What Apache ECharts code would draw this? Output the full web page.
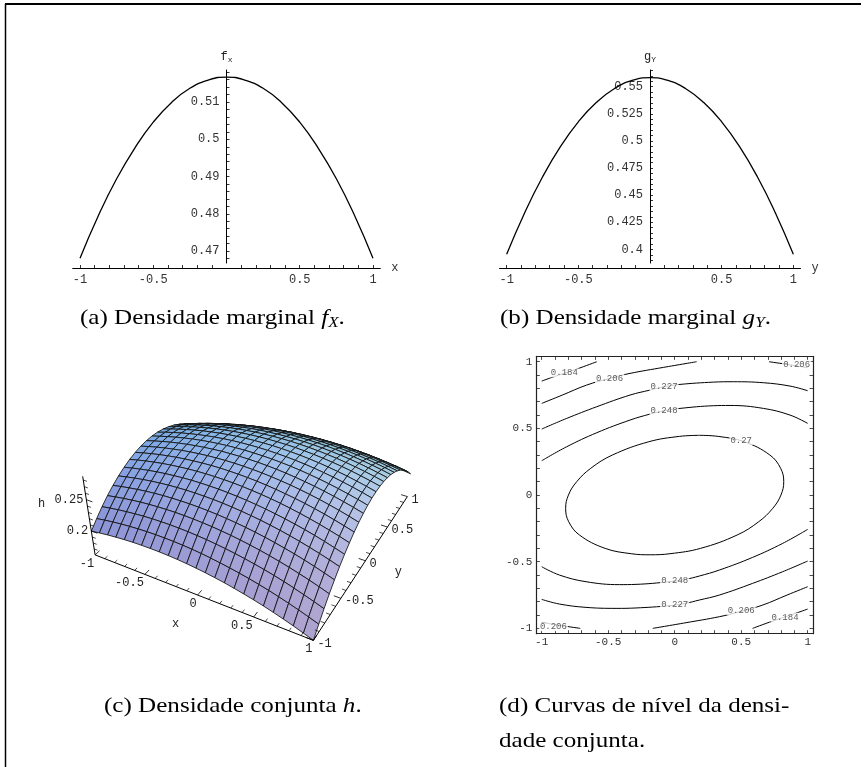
<!DOCTYPE html>
<html><head><meta charset="utf-8">
<script src="https://cdn.jsdelivr.net/npm/echarts@6/dist/echarts.min.js"></script>
<style>html,body{margin:0;padding:0;background:#fff}#c{width:865px;height:767px}</style>
</head><body><div id="c"></div>
<script>
// ---------------- data ----------------
// (a) marginal f_X
const fxX = [-1,-0.875,-0.75,-0.625,-0.5,-0.375,-0.25,-0.125,0,0.125,0.25,0.375,0.5,0.625,0.75,0.875,1];
const fxV = [0.4681,0.4795,0.4894,0.4977,0.5046,0.5099,0.5137,0.5159,0.5167,0.5159,0.5137,0.5099,0.5046,0.4977,0.4894,0.4795,0.4681];
// (b) marginal g_Y
const gyX = [-1,-0.875,-0.75,-0.625,-0.5,-0.375,-0.25,-0.125,0,0.125,0.25,0.375,0.5,0.625,0.75,0.875,1];
const gyV = [0.3954,0.4336,0.4667,0.4947,0.5176,0.5354,0.5481,0.5558,0.5583,0.5558,0.5481,0.5354,0.5176,0.4947,0.4667,0.4336,0.3954];
// tick values / labels
const ticksAx = [-1,-0.9,-0.8,-0.7,-0.6,-0.5,-0.4,-0.3,-0.2,-0.1,0.1,0.2,0.3,0.4,0.5,0.6,0.7,0.8,0.9,1];
const labelsAx = [-1,-0.5,0.5,1];
const ticksAy = [0.468,0.47,0.472,0.474,0.476,0.478,0.48,0.482,0.484,0.486,0.488,0.49,0.492,0.494,0.496,0.498,0.5,0.502,0.504,0.506,0.508,0.51,0.512,0.514,0.516,0.518];
const labelsAy = [0.47,0.48,0.49,0.5,0.51];
const ticksBy = [0.39,0.395,0.4,0.405,0.41,0.415,0.42,0.425,0.43,0.435,0.44,0.445,0.45,0.455,0.46,0.465,0.47,0.475,0.48,0.485,0.49,0.495,0.5,0.505,0.51,0.515,0.52,0.525,0.53,0.535,0.54,0.545,0.55,0.555,0.56,0.565];
const labelsBy = [0.4,0.425,0.45,0.475,0.5,0.525,0.55];
const ticksD = [-1,-0.9,-0.8,-0.7,-0.6,-0.5,-0.4,-0.3,-0.2,-0.1,0,0.1,0.2,0.3,0.4,0.5,0.6,0.7,0.8,0.9,1];
const labelsD = [-1,-0.5,0,0.5,1];
// (c) joint density h on a 25x25 grid (rows: y from -1 to 1, columns: x from -1 to 1)
const surfX = [-1,-0.9167,-0.8333,-0.75,-0.6667,-0.5833,-0.5,-0.4167,-0.3333,-0.25,-0.1667,-0.0833,0,0.0833,0.1667,0.25,0.3333,0.4167,0.5,0.5833,0.6667,0.75,0.8333,0.9167,1];
const surfY = [-1,-0.9167,-0.8333,-0.75,-0.6667,-0.5833,-0.5,-0.4167,-0.3333,-0.25,-0.1667,-0.0833,0,0.0833,0.1667,0.25,0.3333,0.4167,0.5,0.5833,0.6667,0.75,0.8333,0.9167,1];
const surfH = [
 [0.1997,0.2019,0.2038,0.2053,0.2065,0.2074,0.2079,0.2081,0.2080,0.2075,0.2067,0.2055,0.2040,0.2022,0.2000,0.1975,0.1946,0.1914,0.1879,0.1841,0.1799,0.1753,0.1705,0.1652,0.1597],
 [0.2110,0.2134,0.2154,0.2171,0.2184,0.2194,0.2201,0.2204,0.2204,0.2201,0.2194,0.2184,0.2170,0.2153,0.2133,0.2109,0.2082,0.2052,0.2018,0.1981,0.1940,0.1896,0.1849,0.1798,0.1744],
 [0.2213,0.2238,0.2259,0.2277,0.2292,0.2304,0.2312,0.2316,0.2318,0.2315,0.2310,0.2301,0.2289,0.2273,0.2254,0.2232,0.2206,0.2177,0.2145,0.2109,0.2070,0.2027,0.1981,0.1932,0.1879],
 [0.2304,0.2330,0.2353,0.2372,0.2389,0.2401,0.2411,0.2417,0.2420,0.2419,0.2415,0.2407,0.2397,0.2382,0.2365,0.2344,0.2320,0.2292,0.2261,0.2226,0.2189,0.2147,0.2103,0.2055,0.2004],
 [0.2383,0.2411,0.2435,0.2456,0.2474,0.2488,0.2499,0.2506,0.2510,0.2511,0.2508,0.2502,0.2493,0.2480,0.2464,0.2444,0.2421,0.2395,0.2365,0.2332,0.2296,0.2256,0.2213,0.2166,0.2116],
 [0.2451,0.2480,0.2506,0.2528,0.2547,0.2563,0.2575,0.2584,0.2590,0.2592,0.2590,0.2586,0.2578,0.2566,0.2551,0.2533,0.2512,0.2487,0.2459,0.2427,0.2392,0.2353,0.2312,0.2267,0.2218],
 [0.2508,0.2539,0.2566,0.2590,0.2610,0.2627,0.2640,0.2651,0.2658,0.2661,0.2661,0.2658,0.2651,0.2641,0.2628,0.2611,0.2591,0.2567,0.2540,0.2510,0.2477,0.2440,0.2399,0.2355,0.2308],
 [0.2554,0.2586,0.2614,0.2639,0.2661,0.2679,0.2694,0.2706,0.2714,0.2719,0.2721,0.2719,0.2714,0.2705,0.2693,0.2677,0.2659,0.2637,0.2611,0.2582,0.2550,0.2514,0.2475,0.2433,0.2387],
 [0.2588,0.2621,0.2651,0.2678,0.2701,0.2721,0.2737,0.2750,0.2760,0.2766,0.2769,0.2768,0.2764,0.2757,0.2747,0.2733,0.2715,0.2694,0.2670,0.2643,0.2612,0.2578,0.2540,0.2499,0.2455],
 [0.2611,0.2646,0.2677,0.2705,0.2729,0.2751,0.2768,0.2783,0.2794,0.2801,0.2806,0.2807,0.2804,0.2798,0.2789,0.2776,0.2760,0.2741,0.2718,0.2692,0.2663,0.2630,0.2594,0.2554,0.2511],
 [0.2623,0.2659,0.2691,0.2721,0.2747,0.2769,0.2788,0.2804,0.2816,0.2826,0.2831,0.2833,0.2832,0.2828,0.2820,0.2809,0.2794,0.2776,0.2755,0.2730,0.2702,0.2671,0.2636,0.2598,0.2556],
 [0.2623,0.2660,0.2694,0.2725,0.2752,0.2776,0.2797,0.2814,0.2828,0.2838,0.2845,0.2849,0.2849,0.2846,0.2840,0.2830,0.2817,0.2800,0.2780,0.2757,0.2730,0.2700,0.2667,0.2630,0.2590],
 [0.2612,0.2651,0.2686,0.2718,0.2747,0.2772,0.2794,0.2813,0.2828,0.2840,0.2848,0.2853,0.2855,0.2853,0.2848,0.2840,0.2828,0.2813,0.2794,0.2772,0.2747,0.2718,0.2686,0.2651,0.2612],
 [0.2590,0.2630,0.2667,0.2700,0.2730,0.2757,0.2780,0.2800,0.2817,0.2830,0.2840,0.2846,0.2849,0.2849,0.2845,0.2838,0.2828,0.2814,0.2797,0.2776,0.2752,0.2725,0.2694,0.2660,0.2623],
 [0.2556,0.2598,0.2636,0.2671,0.2702,0.2730,0.2755,0.2776,0.2794,0.2809,0.2820,0.2828,0.2832,0.2833,0.2831,0.2826,0.2816,0.2804,0.2788,0.2769,0.2747,0.2721,0.2691,0.2659,0.2623],
 [0.2511,0.2554,0.2594,0.2630,0.2663,0.2692,0.2718,0.2741,0.2760,0.2776,0.2789,0.2798,0.2804,0.2807,0.2806,0.2801,0.2794,0.2783,0.2768,0.2751,0.2729,0.2705,0.2677,0.2646,0.2611],
 [0.2455,0.2499,0.2540,0.2578,0.2612,0.2643,0.2670,0.2694,0.2715,0.2733,0.2747,0.2757,0.2764,0.2768,0.2769,0.2766,0.2760,0.2750,0.2737,0.2721,0.2701,0.2678,0.2651,0.2621,0.2588],
 [0.2387,0.2433,0.2475,0.2514,0.2550,0.2582,0.2611,0.2637,0.2659,0.2677,0.2693,0.2705,0.2714,0.2719,0.2721,0.2719,0.2714,0.2706,0.2694,0.2679,0.2661,0.2639,0.2614,0.2586,0.2554],
 [0.2308,0.2355,0.2399,0.2440,0.2477,0.2510,0.2540,0.2567,0.2591,0.2611,0.2628,0.2641,0.2651,0.2658,0.2661,0.2661,0.2658,0.2651,0.2640,0.2627,0.2610,0.2590,0.2566,0.2539,0.2508],
 [0.2218,0.2267,0.2312,0.2353,0.2392,0.2427,0.2459,0.2487,0.2512,0.2533,0.2551,0.2566,0.2578,0.2586,0.2590,0.2592,0.2590,0.2584,0.2575,0.2563,0.2547,0.2528,0.2506,0.2480,0.2451],
 [0.2116,0.2166,0.2213,0.2256,0.2296,0.2332,0.2365,0.2395,0.2421,0.2444,0.2464,0.2480,0.2493,0.2502,0.2508,0.2511,0.2510,0.2506,0.2499,0.2488,0.2474,0.2456,0.2435,0.2411,0.2383],
 [0.2004,0.2055,0.2103,0.2147,0.2189,0.2226,0.2261,0.2292,0.2320,0.2344,0.2365,0.2382,0.2397,0.2407,0.2415,0.2419,0.2420,0.2417,0.2411,0.2401,0.2389,0.2372,0.2353,0.2330,0.2304],
 [0.1879,0.1932,0.1981,0.2027,0.2070,0.2109,0.2145,0.2177,0.2206,0.2232,0.2254,0.2273,0.2289,0.2301,0.2310,0.2315,0.2318,0.2316,0.2312,0.2304,0.2292,0.2277,0.2259,0.2238,0.2213],
 [0.1744,0.1798,0.1849,0.1896,0.1940,0.1981,0.2018,0.2052,0.2082,0.2109,0.2133,0.2153,0.2170,0.2184,0.2194,0.2201,0.2204,0.2204,0.2201,0.2194,0.2184,0.2171,0.2154,0.2134,0.2110],
 [0.1597,0.1652,0.1705,0.1753,0.1799,0.1841,0.1879,0.1914,0.1946,0.1975,0.2000,0.2022,0.2040,0.2055,0.2067,0.2075,0.2080,0.2081,0.2079,0.2074,0.2065,0.2053,0.2038,0.2019,0.1997]
];
const ticks3x = [-1,-0.5,0,0.5,1];
const minor3x = [-0.9,-0.8,-0.7,-0.6,-0.4,-0.3,-0.2,-0.1,0.1,0.2,0.3,0.4,0.6,0.7,0.8,0.9];
const ticks3h = [0.2,0.25];
const minor3h = [0.17,0.18,0.19,0.21,0.22,0.23,0.24,0.26,0.27,0.28];
// (d) contour lines (x, y)
const c184a = [[-1,0.855],[-0.887,0.895],[-0.737,0.945],[-0.586,1]];
const c206a = [[-1,0.6875],[-0.845,0.75],[-0.662,0.825],[-0.49,0.875],[-0.336,0.9125],[-0.085,0.9575],[0.165,1]];
const c206b = [[0.71,1],[0.86,0.978],[1,0.955]];
const c227a = [[-1,0.495],[-0.812,0.575],[-0.586,0.6625],[-0.336,0.75],[-0.185,0.7875],[-0.08,0.8125],[0.04,0.83],[0.291,0.847],[0.441,0.85],[0.667,0.8425],[0.867,0.8175],[1,0.7825]];
const c248a = [[-1,0.2575],[-0.812,0.3625],[-0.586,0.4675],[-0.336,0.5625],[-0.185,0.6075],[-0.08,0.6325],[0.04,0.65],[0.291,0.67],[0.416,0.672],[0.667,0.65],[0.867,0.6],[1,0.5375]];
const c270 = [[0.184,0.448],[0.035,0.44],[-0.194,0.4],[-0.469,0.3],[-0.632,0.2],[-0.737,0.1],[-0.799,0],[-0.82,-0.1],[-0.797,-0.2],[-0.716,-0.3],[-0.523,-0.4],[-0.327,-0.44],[-0.184,-0.448],[-0.035,-0.44],[0.194,-0.4],[0.469,-0.3],[0.632,-0.2],[0.737,-0.1],[0.799,0],[0.82,0.1],[0.797,0.2],[0.716,0.3],[0.523,0.4],[0.327,0.44],[0.184,0.448]];
const c248b = [[1,-0.2575],[0.812,-0.3625],[0.586,-0.4675],[0.336,-0.5625],[0.185,-0.6075],[0.08,-0.6325],[-0.04,-0.65],[-0.291,-0.67],[-0.416,-0.672],[-0.667,-0.65],[-0.867,-0.6],[-1,-0.5375]];
const c227b = [[1,-0.495],[0.812,-0.575],[0.586,-0.6625],[0.336,-0.75],[0.185,-0.7875],[0.08,-0.8125],[-0.04,-0.83],[-0.291,-0.847],[-0.441,-0.85],[-0.667,-0.8425],[-0.867,-0.8175],[-1,-0.7825]];
const c206c = [[1,-0.6875],[0.845,-0.75],[0.662,-0.825],[0.49,-0.875],[0.336,-0.9125],[0.085,-0.9575],[-0.165,-1]];
const c206d = [[-0.71,-1],[-0.86,-0.978],[-1,-0.955]];
const c184b = [[1,-0.855],[0.887,-0.895],[0.737,-0.945],[0.586,-1]];
const contourLines = [c184a,c206a,c206b,c227a,c248a,c270,c248b,c227b,c206c,c206d,c184b];
const contourLabels = [[-0.83,0.917,'0.184'],[-0.49,0.874,'0.206'],[-0.08,0.8125,'0.227'],[-0.08,0.6325,'0.248'],[0.5,0.41,'0.27'],[0.917,0.98,'0.206'],[0.0,-0.644,'0.248'],[0.0,-0.824,'0.227'],[0.5,-0.868,'0.206'],[0.83,-0.9175,'0.184'],[-0.912,-0.9875,'0.206']];

// ---------------- 3D projection (Mathematica-like view point) ----------------
const VIEW = [1.3,-2.4,2], BOX_Z = 0.4, PS = 805, POX = 258.5, POY = 487.3;
let zMin = Infinity, zMax = -Infinity;
surfH.forEach(r => r.forEach(v => { zMin = Math.min(zMin, v); zMax = Math.max(zMax, v); }));
const dot = (a,b) => a[0]*b[0]+a[1]*b[1]+a[2]*b[2];
const sub = (a,b) => [a[0]-b[0],a[1]-b[1],a[2]-b[2]];
const cross = (a,b) => [a[1]*b[2]-a[2]*b[1], a[2]*b[0]-a[0]*b[2], a[0]*b[1]-a[1]*b[0]];
const nrm = a => { const l = Math.hypot(a[0],a[1],a[2]); return [a[0]/l,a[1]/l,a[2]/l]; };
const CF = nrm(VIEW.map(v => -v));
const CR = nrm(cross(CF,[0,0,1]));
const CU = cross(CR, CF);
function toBox(x,y,h){ return [x/2, y/2, (h-zMin)/(zMax-zMin)*BOX_Z - BOX_Z/2]; }
function proj(P){ const d = sub(P, VIEW); const z = dot(d, CF); return [POX + PS*dot(d,CR)/z, POY - PS*dot(d,CU)/z]; }
const P3 = (x,y,h) => proj(toBox(x,y,h));
const LIGHTS = [[nrm([1,0,1]),[1,0,0]],[nrm([1,1,1]),[0,1,0]],[nrm([0,1,1]),[0,0,1]]];
const BASE = [0.72,0.70,0.86], LIT = 0.42;
function shade(n){
  const nv = [dot(n,CR), dot(n,CU), -dot(n,CF)];
  let c = [0,0,0];
  LIGHTS.forEach(([l,col]) => { const k = Math.max(0, dot(nv,l)); c = c.map((v,i) => v + k*col[i]); });
  return 'rgb(' + c.map((v,i) => Math.round(255*Math.min(1, LIT*v + (1-LIT)*BASE[i]))).join(',') + ')';
}
// painter's order: far cells first
const cells = [];
for (let j = 0; j < surfY.length-1; j++) for (let i = 0; i < surfX.length-1; i++) {
  const c = toBox((surfX[i]+surfX[i+1])/2, (surfY[j]+surfY[j+1])/2, (surfH[j][i]+surfH[j][i+1]+surfH[j+1][i]+surfH[j+1][i+1])/4);
  const d = sub(c, VIEW);
  cells.push([i, j, Math.hypot(d[0],d[1],d[2])]);
}
cells.sort((a,b) => b[2]-a[2]);

function renderCell(params, api){
  const i = api.value(0), j = api.value(1);
  const P = [[i,j],[i+1,j],[i+1,j+1],[i,j+1]].map(([a,b]) => toBox(surfX[a], surfY[b], surfH[b][a]));
  const n = nrm(cross(sub(P[2],P[0]), sub(P[3],P[1])));
  return { type:'polygon', z2: params.dataIndex, shape:{ points: P.map(proj) },
    style:{ fill: shade(n), stroke:'#111', lineWidth:0.85 } };
}
const MONO = 'Liberation Mono';
function txt(p, text, align, dx, dy, size){
  return { type:'text', style:{ x:p[0]+dx, y:p[1]+dy, text:text, align:align, textAlign:align,
    verticalAlign:'middle', textVerticalAlign:'middle', fontFamily:MONO, fontSize:size||12, fill:'#222' } };
}
function seg(a,b,w){ return { type:'line', shape:{x1:a[0],y1:a[1],x2:b[0],y2:b[1]}, style:{stroke:'#000', lineWidth:w||1} }; }
function fmt(v){ return String(Math.round(v*1000)/1000); }
function renderAxes3D(){
  const ch = [];
  ch.push(seg(P3(-1,-1,zMin), P3(1,-1,zMin)));
  ch.push(seg(P3(1,-1,zMin), P3(1,1,zMin)));
  ch.push(seg(P3(-1,-1,zMin), P3(-1,-1,zMax)));
  ticks3x.forEach(v => {
    ch.push(seg(P3(v,-1,zMin), P3(v,-1+0.06,zMin), 0.8));
    ch.push(txt(P3(v,-1,zMin), fmt(v), 'right', -1, 8.5));
    ch.push(seg(P3(1,v,zMin), P3(1-0.06,v,zMin), 0.8));
    ch.push(txt(P3(1,v,zMin), fmt(v), 'left', 4, 3));
  });
  minor3x.forEach(v => {
    ch.push(seg(P3(v,-1,zMin), P3(v,-1+0.035,zMin), 0.7));
    ch.push(seg(P3(1,v,zMin), P3(1-0.035,v,zMin), 0.7));
  });
  ticks3h.forEach(v => {
    ch.push(seg(P3(-1,-1,v), P3(-1+0.06,-1,v), 0.8));
    ch.push(txt(P3(-1,-1,v), fmt(v), 'right', -3, 0));
  });
  minor3h.forEach(v => { if (v <= zMax) ch.push(seg(P3(-1,-1,v), P3(-1+0.035,-1,v), 0.7)); });
  ch.push(txt(P3(0,-1,zMin), 'x', 'center', -22, 28.5));
  ch.push(txt(P3(1,0,zMin), 'y', 'center', 33, 11));
  ch.push(txt(P3(-1,-1,0.25), 'h', 'center', -44.7, 4));
  return { type:'group', children: ch };
}

// ---------------- chart ----------------
const chart = echarts.init(document.getElementById('c'), null, {renderer:'canvas'});
const lblStyle = { fontFamily:MONO, fontSize:11, color:'#333' };
const lblStyleM = { fontFamily:MONO, fontSize:12, color:'#333' };
function frameAxis(kind, pos, showLabel){
  return { gridIndex:2, type:'value', min:-1.04, max:1.04, position:pos,
    axisLine:{ onZero:false, lineStyle:{color:'#222', width:1.2} },
    axisTick:{ show:true, inside:true, length:3.5, customValues:ticksD, lineStyle:{color:'#222', width:0.8} },
    axisLabel:Object.assign({ show:showLabel, customValues:labelsD, formatter:fmt, margin: kind==='x'?3:4 }, lblStyle),
    splitLine:{show:false} };
}
function marginalX(gi, name){
  return { gridIndex:gi, type:'value', min:-1.05, max:1.05, position:'bottom', offset:5,
    axisLine:{ onZero:false, lineStyle:{color:'#000', width:1} },
    axisTick:{ show:true, inside:true, length:3, customValues:ticksAx, lineStyle:{color:'#000', width:0.8} },
    axisLabel:Object.assign({ customValues:labelsAx, formatter:fmt, margin:6 }, lblStyleM),
    splitLine:{show:false}, name:name, nameLocation:'end', nameGap:11, nameTextStyle:{fontFamily:MONO, fontSize:12, color:'#333'} };
}
function marginalY(gi, mn, mx, ticks, labels, shift, nm, sub){
  return { gridIndex:gi, type:'value', min:mn, max:mx, position:'left', offset:shift,
    axisLine:{ onZero:false, lineStyle:{color:'#000', width:1} },
    axisTick:{ show:true, inside:true, length:3, customValues:ticks, lineStyle:{color:'#000', width:0.8} },
    axisLabel:Object.assign({ customValues:labels, formatter:fmt, margin:7 }, lblStyleM),
    splitLine:{show:false}, name:'{f|'+nm+'}{s|'+sub+'}', nameLocation:'end', nameGap:6,
    nameTextStyle:{ rich:{ f:{fontFamily:MONO, fontSize:12, color:'#222', lineHeight:14},
                           s:{fontFamily:MONO, fontSize:8, color:'#222', lineHeight:8, verticalAlign:'bottom'} } } };
}
const series = [
  { type:'line', xAxisIndex:0, yAxisIndex:0, data: fxX.map((x,i)=>[x,fxV[i]]), smooth:true, showSymbol:false, symbol:'none',
    lineStyle:{color:'#000', width:1.3}, silent:true },
  { type:'line', xAxisIndex:1, yAxisIndex:1, data: gyX.map((x,i)=>[x,gyV[i]]), smooth:true, showSymbol:false, symbol:'none',
    lineStyle:{color:'#000', width:1.3}, silent:true },
  { type:'custom', coordinateSystem:'none', data: cells.map(c=>[c[0],c[1]]), renderItem: renderCell, silent:true, z:2 },
  { type:'custom', coordinateSystem:'none', data:[[0]], renderItem: renderAxes3D, silent:true, z:3 }
];
contourLines.forEach(line => series.push({ type:'line', xAxisIndex:2, yAxisIndex:2, data: line, smooth:0.4, symbol:'none',
  lineStyle:{color:'#000', width:1}, silent:true, z:2 }));
series.push({ type:'scatter', xAxisIndex:2, yAxisIndex:2, symbolSize:0.1, silent:true, z:4,
  data: contourLabels.map(l => ({ value:[l[0],l[1]], name:l[2] })),
  label:{ show:true, position:'inside', formatter:'{b}', fontFamily:MONO, fontSize:9, color:'#333',
    backgroundColor:'#fff', padding:[0,1] } });

const capFont = 'Liberation Serif';
function caption(x, y, text){
  return { type:'text', x:x, y:y, scaleX:1.14, style:{ x:0, y:0, text:text, fontFamily:capFont, fontSize:22, fill:'#000', lineHeight:26,
    verticalAlign:'middle', textVerticalAlign:'middle',
    rich:{ i:{ fontFamily:capFont, fontSize:22, fontStyle:'italic', fill:'#000', lineHeight:26 },
           s:{ fontFamily:capFont, fontSize:15, fontStyle:'italic', fill:'#000', lineHeight:15, verticalAlign:'bottom' } } } };
}

chart.setOption({
  animation:false, backgroundColor:'#fff',
  grid:[
    { left:72.7, top:70, width:307.6, height:193 },
    { left:499.5, top:70, width:301, height:193 },
    { left:536.4, top:356.4, width:276.6, height:277.3 }
  ],
  xAxis:[ marginalX(0,'x'), marginalX(1,'y'), frameAxis('x','bottom',true), frameAxis('x','top',false) ],
  yAxis:[
    marginalY(0, 0.4668, 0.5186, ticksAy, labelsAy, -153.8, 'f', 'x'),
    marginalY(1, 0.3874, 0.5654, ticksBy, labelsBy, -150.5, 'g', 'Y'),
    frameAxis('y','left',true),
    frameAxis('y','right',false)
  ],
  series: series,
  graphic:[
    { type:'line', shape:{x1:5, y1:4, x2:861, y2:4}, style:{stroke:'#000', lineWidth:2} },
    { type:'line', shape:{x1:5.5, y1:4, x2:5.5, y2:767}, style:{stroke:'#000', lineWidth:1.5} },
    caption(80, 318, '(a) Densidade marginal {i|f}{s|X}.'),
    caption(500, 318, '(b) Densidade marginal {i|g}{s|Y}.'),
    caption(104, 706, '(c) Densidade conjunta {i|h}.'),
    caption(499, 706, '(d) Curvas de nível da densi-'),
    caption(499, 741, 'dade conjunta.')
  ]
});
</script></body></html>
